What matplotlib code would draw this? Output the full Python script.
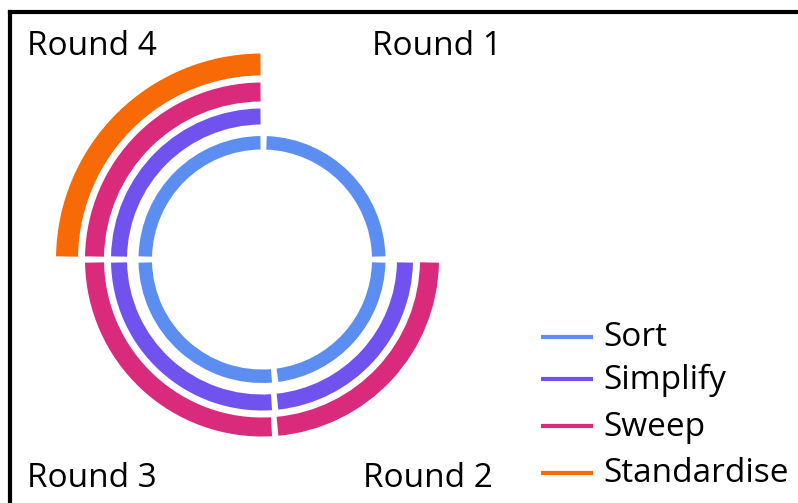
import numpy as np
import matplotlib.pyplot as plt
from matplotlib.patches import Wedge

rounds = ["Round 1", "Round 2", "Round 3", "Round 4"]
stages = ["Sort", "Simplify", "Sweep", "Standardise"]
# 1 = stage done in that round
sort = [1, 1, 1, 1]
simplify = [0, 1, 1, 1]
sweep = [0, 1, 1, 1]
standardise = [0, 0, 0, 1]
done = [sort, simplify, sweep, standardise]

colors = ["#5c8ef2", "#7052ee", "#d92a7c", "#f76a05"]
radii = [(110, 123.5), (135, 151), (158, 177), (184, 206)]

plt.rcParams['font.family'] = ['Open Sans', 'DejaVu Sans']

W, H = 798, 503
fig = plt.figure(figsize=(W / 100, H / 100), dpi=100)
ax = fig.add_axes([0, 0, 1, 1])
ax.set_xlim(0, W)
ax.set_ylim(0, H)
ax.set_aspect('equal')
ax.axis('off')

cx, cy = 262, 503 - 259.5
gap = 3.0


def span(q, r):
    # angular span of quadrant q (0=Round 1 ... 3=Round 4) at radius r
    g = np.degrees(gap / r)
    east = 0.0
    north = 90 - np.degrees(np.arcsin(1.5 / r))
    west = 180.0
    south = -90 + np.degrees(np.arcsin(12.5 / r))
    if q == 0:
        return east + g, north - g
    if q == 1:
        return south + g, east - g
    if q == 2:
        return west + g, south + 360 - g
    return north + g, west - g


for stage, vals, col, (r0, r1) in zip(stages, done, colors, radii):
    rm = (r0 + r1) / 2
    for q, v in enumerate(vals):
        if not v:
            continue
        t1, t2 = span(q, rm)
        ax.add_patch(Wedge((cx, cy), r1, t1, t2, width=r1 - r0,
                           facecolor=col, edgecolor='none'))

# round labels
label_pos = {"Round 1": (372, 448), "Round 2": (363, 16),
             "Round 3": (27, 16), "Round 4": (27, 448)}
for rd in rounds:
    x, y = label_pos[rd]
    ax.text(x, y, rd, fontsize=24, color='black', ha='left', va='baseline')

# legend
ly = [503 - 337, 503 - 379, 503 - 426, 503 - 473]
for stage, col, y in zip(stages, colors, ly):
    ax.plot([541, 593], [y, y], color=col, lw=3, solid_capstyle='butt')
    ax.text(603, y - 1, stage, fontsize=24, color='black', ha='left', va='center')

# frame on top and left
ax.plot([10, 10], [0, 491], color='black', lw=3, solid_capstyle='projecting')
ax.plot([10, W], [491, 491], color='black', lw=3, solid_capstyle='projecting')

fig.savefig('out.png', dpi=100, facecolor='white')
